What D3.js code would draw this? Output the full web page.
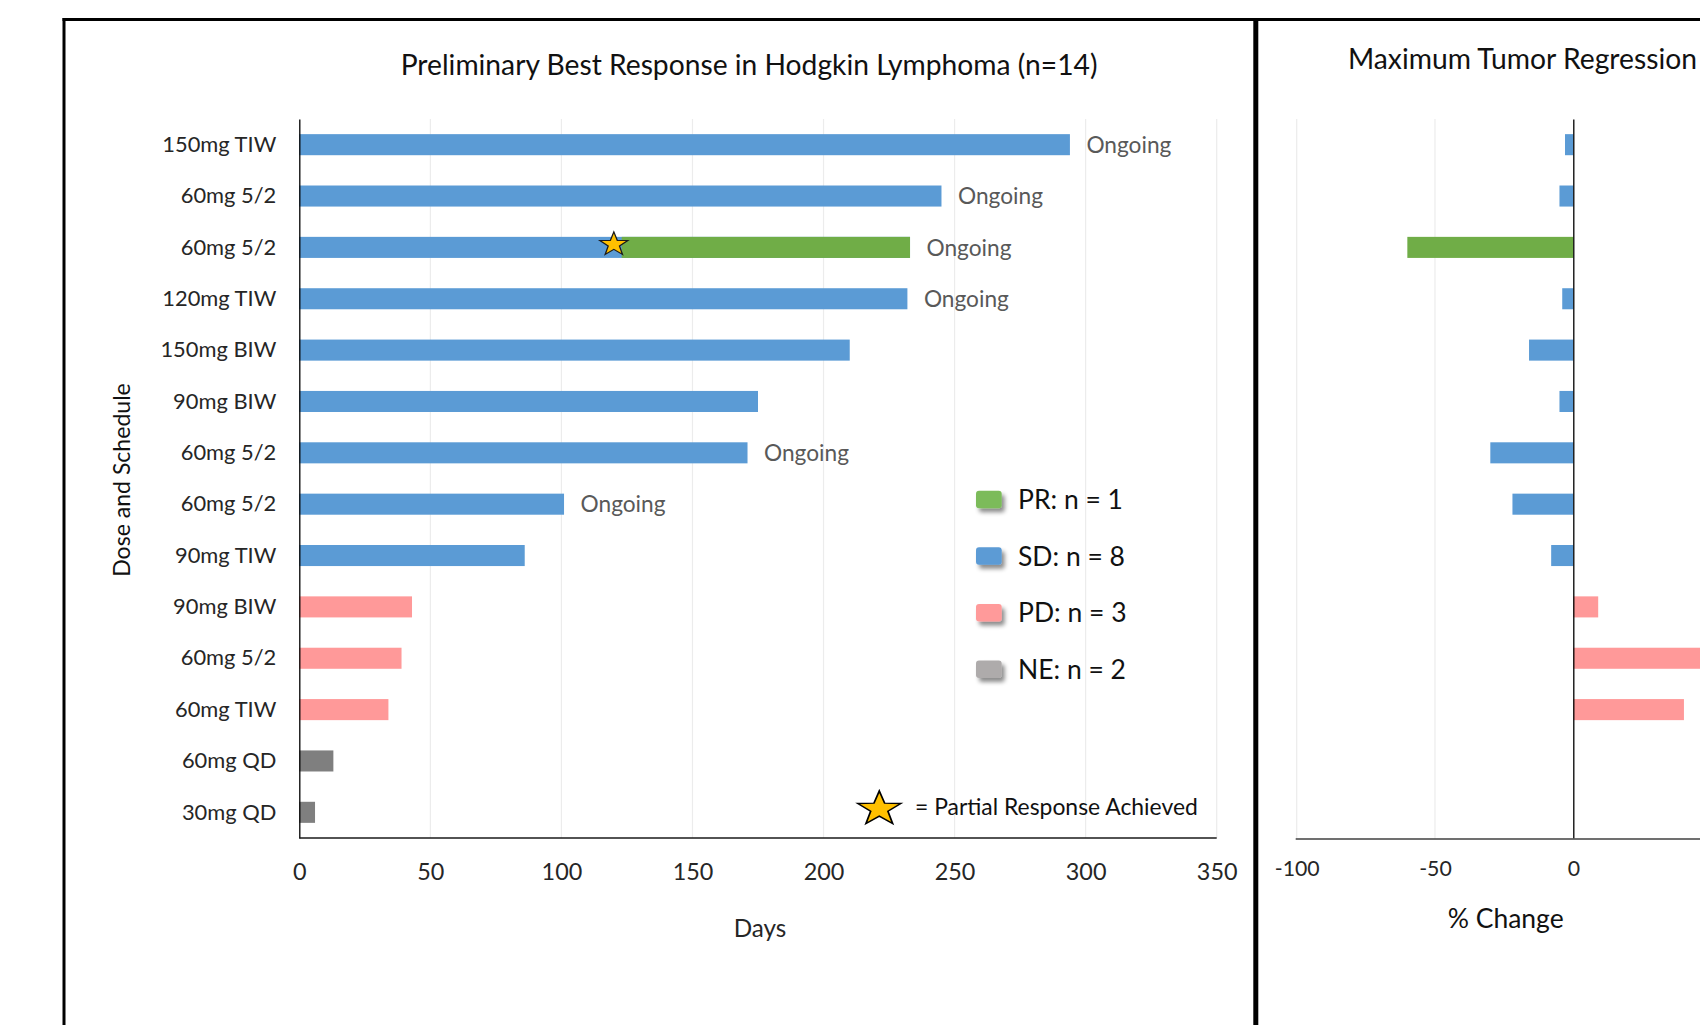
<!DOCTYPE html>
<html>
<head>
<meta charset="utf-8">
<script src="https://cdn.jsdelivr.net/npm/d3@7"></script>
<style>
  html, body { margin: 0; padding: 0; background: #fff; overflow: hidden; }
  svg { display: block; font-family: Lato, "Open Sans", sans-serif; }
</style>
</head>
<body>
<svg id="chart" width="1700" height="1025"></svg>
<script>
// ---------- DATA ----------
const categories = ["150mg TIW","60mg 5/2","60mg 5/2","120mg TIW","150mg BIW","90mg BIW","60mg 5/2","60mg 5/2","90mg TIW","90mg BIW","60mg 5/2","60mg TIW","60mg QD","30mg QD"];
const responses  = ["SD","SD","PR","SD","SD","SD","SD","SD","SD","PD","PD","PD","NE","NE"];
const days       = [294,245,233,232,210,175,171,101,86,43,39,34,13,6];
const ongoing    = [true,true,true,true,false,false,true,true,false,false,false,false,false,false];
const prOnsetDay = [null,null,123,null,null,null,null,null,null,null,null,null,null,null];
const starDay    = [null,null,120,null,null,null,null,null,null,null,null,null,null,null];
const pctChange  = [-3,-5,-60,-4,-16,-5,-30,-22,-8,9,55,40,null,null];
const dayTicks   = [0,50,100,150,200,250,300,350];
const pctTicks   = [-100,-50,0,50];
const legendKeys   = ["PR","SD","PD","NE"];
const legendLabels = ["PR: n = 1","SD: n = 8","PD: n = 3","NE: n = 2"];
const leftTitle  = "Preliminary Best Response in Hodgkin Lymphoma (n=14)";
const rightTitle = "Maximum Tumor Regression";
const leftXLabel = "Days";
const leftYLabel = "Dose and Schedule";
const rightXLabel = "% Change";
const ongoingText = "Ongoing";
const starNote = "= Partial Response Achieved";

// ---------- STYLE ----------
const barColor = {PR:"#70ad47", SD:"#5b9bd5", PD:"#ff9999", NE:"#7f7f7f"};
const legendColor = {PR:"#7cbb5a", SD:"#5b9bd5", PD:"#ff9a9a", NE:"#aeabab"};
const gridColor = "#ececec";
const textColor = "#262626";

const svg = d3.select("#chart");
const defs = svg.append("defs");
const f = defs.append("filter").attr("id","shadow").attr("x","-50%").attr("y","-50%").attr("width","200%").attr("height","200%");
f.append("feDropShadow").attr("dx",3).attr("dy",4).attr("stdDeviation",2.2).attr("flood-color","#000").attr("flood-opacity",0.45);

function fitSize(sample, target, base) {
  const t = svg.append("text").style("font-size", base + "px").text(sample);
  const w = t.node().getComputedTextLength();
  t.remove();
  return base * target / w;
}

// ---------- SCALES ----------
const x = d3.scaleLinear().domain([0,350]).range([299.3,1216.7]);
const y = d3.scaleBand().domain(d3.range(categories.length)).range([119,838]).paddingInner(0.59).paddingOuter(0.295);
const xr = d3.scaleLinear().domain([-100,100]).range([1296.7,1849.9]);

// ---------- FRAME ----------
svg.append("line").attr("x1",62.5).attr("x2",1700).attr("y1",19.5).attr("y2",19.5).attr("stroke","#000").attr("stroke-width",3);
svg.append("line").attr("x1",64).attr("x2",64).attr("y1",18).attr("y2",1025).attr("stroke","#000").attr("stroke-width",3);
svg.append("line").attr("x1",1255.8).attr("x2",1255.8).attr("y1",18).attr("y2",1025).attr("stroke","#000").attr("stroke-width",5);

// ---------- LEFT PANEL ----------
const L = svg.append("g");
L.append("g").selectAll("line").data(dayTicks.filter(d => d > 0)).join("line")
  .attr("x1", d => x(d)).attr("x2", d => x(d)).attr("y1",119).attr("y2",838)
  .attr("stroke", gridColor).attr("stroke-width",1.2);

const rows = d3.range(categories.length);
L.append("g").selectAll("rect").data(rows).join("rect")
  .attr("x", x(0))
  .attr("y", i => y(i))
  .attr("width", i => x(days[i]) - x(0))
  .attr("height", y.bandwidth())
  .attr("fill", i => responses[i] === "PR" ? barColor.SD : barColor[responses[i]]);
L.append("g").selectAll("rect").data(rows.filter(i => prOnsetDay[i] != null)).join("rect")
  .attr("x", i => x(prOnsetDay[i]))
  .attr("y", i => y(i))
  .attr("width", i => x(days[i]) - x(prOnsetDay[i]))
  .attr("height", y.bandwidth())
  .attr("fill", barColor.PR);

function starPath(R) {
  const r = R * 0.4;
  const pts = [];
  for (let k = 0; k < 10; k++) {
    const a = -Math.PI/2 + k * Math.PI/5;
    const rr = k % 2 === 0 ? R : r;
    pts.push([rr*Math.cos(a), rr*Math.sin(a)]);
  }
  return "M" + pts.map(p => p.join(",")).join("L") + "Z";
}
L.append("g").selectAll("path").data(rows.filter(i => starDay[i] != null)).join("path")
  .attr("d", starPath(12.5))
  .attr("transform", i => `translate(${x(starDay[i])},${y(i) + y.bandwidth()/2 - 3}) scale(1.18,1)`)
  .attr("fill","#ffc000").attr("stroke","#1a1a1a").attr("stroke-width",1.1).attr("stroke-linejoin","miter");

const ongSize = fitSize(ongoingText, 85, 20);
L.append("g").selectAll("text").data(rows.filter(i => ongoing[i])).join("text")
  .attr("x", i => x(days[i]) + 16.5)
  .attr("y", i => y(i) + y.bandwidth()/2)
  .attr("dy","0.36em")
  .style("font-size", ongSize + "px")
  .attr("fill","#595959")
  .text(ongoingText);

const ySize = fitSize("150mg TIW", 114, 20);
const yAxis = L.append("g").attr("transform", `translate(${x(0)},0)`)
  .call(d3.axisLeft(y).tickSize(0).tickSizeOuter(0).tickPadding(23).tickFormat(i => categories[i]));
yAxis.select(".domain").attr("stroke","#000").attr("stroke-width",1.3);
yAxis.selectAll("text").style("font-size", ySize + "px").attr("fill", textColor).attr("font-family","Lato").attr("dy","0.33em");

const xtSize = fitSize("100", 40.7, 20);
const xAxis = L.append("g").attr("transform", "translate(0,838)")
  .call(d3.axisBottom(x).tickValues(dayTicks).tickSize(0).tickSizeOuter(0).tickPadding(0).tickFormat(d => String(d)));
xAxis.select(".domain").attr("stroke","#1a1a1a").attr("stroke-width",1.3).attr("d", `M${x(0)},0H${x(350)}`);
xAxis.selectAll("text").style("font-size", xtSize + "px").attr("fill", textColor).attr("font-family","Lato").attr("y", 42).attr("dy", null);

const titleSize = fitSize(leftTitle, 697, 20);
L.append("text").attr("x", 400.7).attr("y", 75).style("font-size", titleSize + "px").attr("fill", "#111").text(leftTitle);
L.append("text").attr("x", 760).attr("y", 937).attr("text-anchor","middle")
  .style("font-size", fitSize(leftXLabel, 52.7, 20) + "px").attr("fill", textColor).text(leftXLabel);
L.append("text").attr("transform","translate(121.7,480) rotate(-90)").attr("text-anchor","middle").attr("dy","0.35em")
  .style("font-size", fitSize(leftYLabel, 193.7, 20) + "px").attr("fill", "#111").text(leftYLabel);

const legSize = fitSize(legendLabels[0], 105, 20);
const legY = [499.5, 556, 612.7, 669.3];
const lg = L.append("g").selectAll("g").data(legendKeys).join("g")
  .attr("transform", (d,i) => `translate(976,${legY[i]})`);
lg.append("rect").attr("x",0).attr("y",-8.8).attr("width",25.7).attr("height",17.6).attr("rx",3)
  .attr("fill", d => legendColor[d]).attr("filter","url(#shadow)");
lg.append("text").attr("x",42).attr("y",0).attr("dy","0.36em").style("font-size", legSize + "px")
  .attr("fill","#111").text((d,i) => legendLabels[i]);

L.append("path").attr("d", starPath(18))
  .attr("transform","translate(879.3,809) scale(1.26,1)")
  .attr("fill","#ffc000").attr("stroke","#000").attr("stroke-width",1.4);
L.append("text").attr("x",915).attr("y",806.7).attr("dy","0.36em")
  .style("font-size", fitSize(starNote, 283, 20) + "px").attr("fill","#111").text(starNote);

// ---------- RIGHT PANEL ----------
const R = svg.append("g");
R.append("g").selectAll("line").data(pctTicks.filter(d => d !== 0)).join("line")
  .attr("x1", d => xr(d)).attr("x2", d => xr(d)).attr("y1",119).attr("y2",839)
  .attr("stroke", gridColor).attr("stroke-width",1.2);

const rRows = rows.filter(i => pctChange[i] != null);
R.append("g").selectAll("rect").data(rRows).join("rect")
  .attr("x", i => xr(Math.min(0, pctChange[i])))
  .attr("y", i => y(i))
  .attr("width", i => Math.abs(xr(pctChange[i]) - xr(0)))
  .attr("height", y.bandwidth())
  .attr("fill", i => barColor[responses[i]]);

R.append("g").attr("transform", `translate(${xr(0)},0)`)
  .call(d3.axisLeft(y).tickSize(0).tickSizeOuter(0).tickFormat(""))
  .call(g => g.select(".domain").attr("stroke","#000").attr("stroke-width",1.3));

const rtSize = fitSize("-100", 45, 20);
const rAxis = R.append("g").attr("transform","translate(0,839)")
  .call(d3.axisBottom(xr).tickValues(pctTicks).tickSize(0).tickSizeOuter(0).tickPadding(0).tickFormat(d => String(d)));
rAxis.select(".domain").attr("stroke","#404040").attr("stroke-width",1.5).attr("d", `M${xr(-100)-1},0H${xr(100)}`);
rAxis.selectAll("text").style("font-size", rtSize + "px").attr("fill", textColor).attr("font-family","Lato").attr("y", 37).attr("dy", null);

R.append("text").attr("x", 1348).attr("y", 69).style("font-size", fitSize(rightTitle, 349, 20) + "px").attr("fill","#111").text(rightTitle);
R.append("text").attr("x", 1505.7).attr("y", 928).attr("text-anchor","middle")
  .style("font-size", fitSize(rightXLabel, 116, 20) + "px").attr("fill","#111").text(rightXLabel);
</script>
</body>
</html>
